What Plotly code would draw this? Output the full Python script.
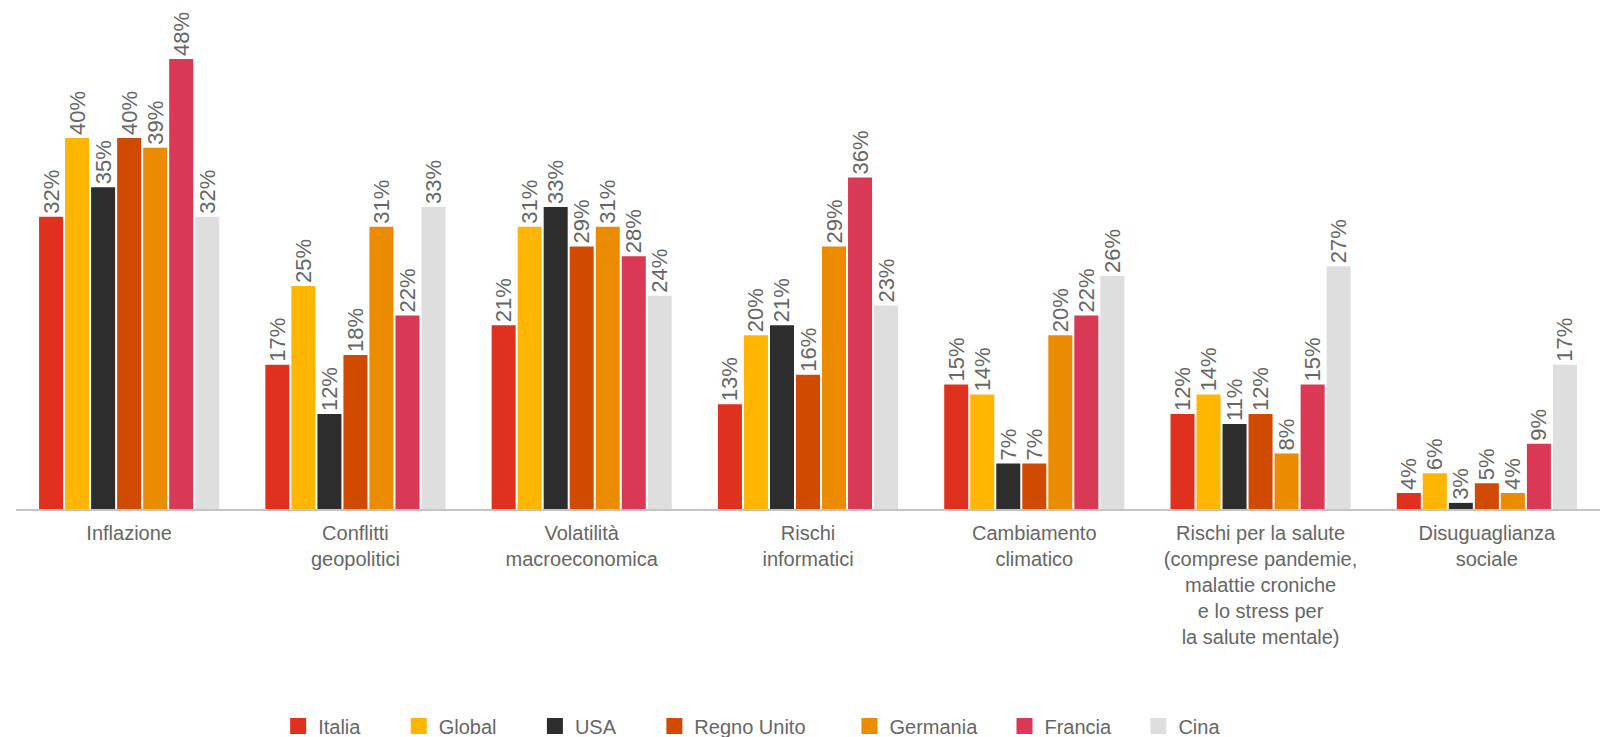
import plotly.graph_objects as go

categories = [
    "Inflazione",
    "Conflitti<br>geopolitici",
    "Volatilità<br>macroeconomica",
    "Rischi<br>informatici",
    "Cambiamento<br>climatico",
    "Rischi per la salute<br>(comprese pandemie,<br>malattie croniche<br>e lo stress per<br>la salute mentale)",
    "Disuguaglianza<br>sociale",
]

series_names = ["Italia", "Global", "USA", "Regno Unito", "Germania", "Francia", "Cina"]

italia = [32, 17, 21, 13, 15, 12, 4]
global_ = [40, 25, 31, 20, 14, 14, 6]
usa = [35, 12, 33, 21, 7, 11, 3]
regno_unito = [40, 18, 29, 16, 7, 12, 5]
germania = [39, 31, 31, 29, 20, 8, 4]
francia = [48, 22, 28, 36, 22, 15, 9]
cina = [32, 33, 24, 23, 26, 27, 17]

series_values = [italia, global_, usa, regno_unito, germania, francia, cina]
colors = ["#e0301e", "#ffb600", "#2d2d2d", "#d04a02", "#eb8c00", "#d93954", "#dedede"]

FONT = "Liberation Sans, Arial, Helvetica, sans-serif"
TEXT_COLOR = "#666666"
# trailing no-break spaces give each legend entry its spacing
legend_pad = [6, 6, 6, 7, 4, 4, 0]

fig = go.Figure()
for name, vals, col in zip(series_names, series_values, colors):
    fig.add_trace(go.Bar(
        name=name,
        x=categories,
        y=vals,
        marker=dict(color=col, line=dict(width=0)),
        text=[f"{v}%" for v in vals],
        textposition="outside",
        textangle=-90,
        constraintext="none",
        cliponaxis=False,
        textfont=dict(family=FONT, size=22, color=TEXT_COLOR),
        hovertemplate="%{x}: %{y}%<extra>" + name + "</extra>",
        showlegend=False,
    ))

# legend entries with larger square swatches
for name, col, pad in zip(series_names, colors, legend_pad):
    fig.add_trace(go.Scatter(
        x=[None], y=[None], mode="markers", name=name + "\u00a0" * pad,
        marker=dict(symbol="square", size=20, color=col),
        showlegend=True,
    ))

fig.update_layout(
    width=1609,
    height=737,
    margin=dict(l=16, r=9, t=10, b=228, autoexpand=False),
    paper_bgcolor="white",
    plot_bgcolor="white",
    barmode="group",
    bargap=0.195,
    bargroupgap=0.077,
    font=dict(family=FONT, size=20, color=TEXT_COLOR),
    legend=dict(
        orientation="h",
        x=0.1655, xanchor="left",
        y=-0.435, yanchor="middle",
        font=dict(family=FONT, size=20, color=TEXT_COLOR),
        itemsizing="trace",
    ),
    xaxis=dict(
        type="category",
        showline=True,
        linecolor="#c4c4c4",
        linewidth=1.5,
        showgrid=False,
        ticks="outside",
        ticklen=5,
        tickcolor="rgba(0,0,0,0)",
        tickfont=dict(family=FONT, size=20, color=TEXT_COLOR),
        fixedrange=True,
    ),
    yaxis=dict(
        range=[2.38, 52.97],
        visible=False,
        showgrid=False,
        zeroline=False,
        fixedrange=True,
    ),
)

fig.write_html("out.html")
